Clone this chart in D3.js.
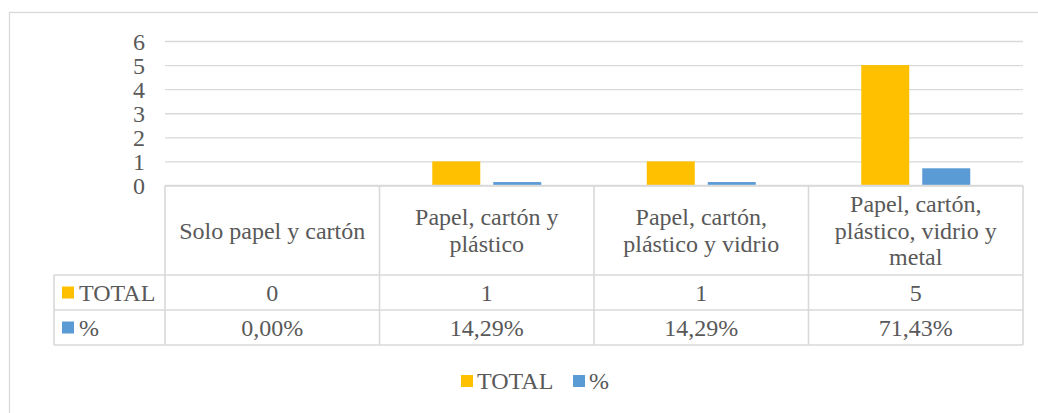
<!DOCTYPE html>
<html><head><meta charset="utf-8">
<script src="https://cdn.jsdelivr.net/npm/d3@7"></script>
<style>
html,body{margin:0;padding:0;background:#fff;}
svg text{font-family:"Liberation Serif","Times New Roman","DejaVu Serif",serif;fill:#595959;}
</style></head>
<body>
<svg id="chart" width="1038" height="413"></svg>
<script>
const categories = ["Solo papel y cartón", "Papel, cartón y plástico", "Papel, cartón, plástico y vidrio", "Papel, cartón, plástico, vidrio y metal"];
const seriesNames = ["TOTAL", "%"];
const totalValues = [0, 1, 1, 5];
const pctValues = [0, 0.1429, 0.1429, 0.7143];
const yTicks = [0, 1, 2, 3, 4, 5, 6];
const colors = ["#FFC000", "#5B9BD5"];

const locale = d3.formatLocale({decimal: ",", thousands: ".", grouping: [3], currency: ["", "€"]});
const fmtPct = locale.format(".2%");
const fmtNum = d3.format("d");

const svg = d3.select("#chart");
const FONT = '"Liberation Serif","Times New Roman","DejaVu Serif",serif';
const gridColor = "#D9D9D9";

// pick font size so that text width matches the reference (Times-like metrics at 24px)
const probe = svg.append("text").attr("font-family", FONT).attr("font-size", 24).text(categories[0]);
const probeW = probe.node().getComputedTextLength();
probe.remove();
const fontSize = Math.min(24, 24 * 186 / probeW);

// outer chart border
svg.append("rect").attr("x", 9.5).attr("y", 12.5).attr("width", 1040).attr("height", 420)
  .attr("fill", "none").attr("stroke", gridColor).attr("stroke-width", 1.3);

const plotL = 165, plotR = 1023, plotTop = 41, plotBottom = 185.5;
const y = d3.scaleLinear().domain([0, 6]).range([plotBottom, plotTop]);
const x = d3.scaleBand().domain(categories).range([plotL, plotR]).padding(0);
const xs = d3.scaleBand().domain(seriesNames).range([0, x.bandwidth()]).paddingInner(0.213).paddingOuter(0.865);

// gridlines + y axis
const yAxis = d3.axisLeft(y).tickValues(yTicks).tickSize(-(plotR - plotL)).tickPadding(20).tickFormat(fmtNum);
const gy = svg.append("g").attr("transform", `translate(${plotL},0)`).call(yAxis)
  .attr("font-family", FONT).attr("font-size", fontSize);
gy.select(".domain").remove();
gy.selectAll(".tick line").attr("stroke", gridColor).attr("stroke-width", 1.3);
gy.selectAll(".tick text").attr("font-size", fontSize).attr("fill", "#595959")
  .attr("font-family", FONT).attr("dy", "0.35em");

// bars
const seriesData = [totalValues, pctValues];
seriesData.forEach((vals, si) => {
  svg.append("g").selectAll("rect").data(vals).join("rect")
    .attr("x", (d, i) => x(categories[i]) + xs(seriesNames[si]))
    .attr("width", xs.bandwidth())
    .attr("y", d => y(d))
    .attr("height", d => y(0) - y(d))
    .attr("fill", colors[si]);
});

// data table
const headerBottom = 275, row1Bottom = 310, row2Bottom = 345, legendColL = 54;
const tbl = svg.append("g");
const line = (x1, y1, x2, y2) => tbl.append("line").attr("x1", x1).attr("y1", y1).attr("x2", x2).attr("y2", y2)
  .attr("stroke", gridColor).attr("stroke-width", 1.6);
line(plotL, plotBottom, plotR, plotBottom);
line(legendColL, headerBottom, plotR, headerBottom);
line(legendColL, row1Bottom, plotR, row1Bottom);
line(legendColL, row2Bottom, plotR, row2Bottom);
line(legendColL, headerBottom, legendColL, row2Bottom);
categories.forEach(c => line(x(c), plotBottom, x(c), row2Bottom));
line(plotR, plotBottom, plotR, row2Bottom);

function txt(sel) { return sel.append("text").attr("font-family", FONT).attr("font-size", fontSize).attr("fill", "#595959"); }

// header labels with wrap
function wrapLines(text, maxW) {
  const tmp = txt(svg);
  const words = text.split(" ");
  const lines = [];
  let cur = "";
  words.forEach(w => {
    const trial = cur ? cur + " " + w : w;
    tmp.text(trial);
    if (tmp.node().getComputedTextLength() > maxW && cur) { lines.push(cur); cur = w; }
    else cur = trial;
  });
  if (cur) lines.push(cur);
  tmp.remove();
  return lines;
}
const lineH = 26.5;
const maxW = 200 * fontSize / 24;
categories.forEach(c => {
  const lines = wrapLines(c, maxW);
  const cx = x(c) + x.bandwidth() / 2;
  const cy = (plotBottom + headerBottom) / 2;
  const t = txt(svg).attr("text-anchor", "middle");
  lines.forEach((l, i) => {
    t.append("tspan").attr("x", cx).attr("y", cy + (i - (lines.length - 1) / 2) * lineH).attr("dy", "0.35em").text(l);
  });
});

// rows
const rows = [
  {name: seriesNames[0], vals: totalValues.map(fmtNum), top: headerBottom, bot: row1Bottom, color: colors[0]},
  {name: seriesNames[1], vals: pctValues.map(fmtPct), top: row1Bottom, bot: row2Bottom, color: colors[1]}
];
rows.forEach(r => {
  const cy = (r.top + r.bot) / 2;
  svg.append("rect").attr("x", 62).attr("y", cy - 6).attr("width", 12).attr("height", 12).attr("fill", r.color);
  txt(svg).attr("x", 79).attr("y", cy).attr("dy", "0.35em").text(r.name);
  r.vals.forEach((v, i) => {
    txt(svg).attr("x", x(categories[i]) + x.bandwidth() / 2)
      .attr("y", cy).attr("dy", "0.35em").attr("text-anchor", "middle").text(v);
  });
});

// legend
const legendY = 381;
const legendItems = [{name: seriesNames[0], color: colors[0], x: 461}, {name: seriesNames[1], color: colors[1], x: 573}];
legendItems.forEach(it => {
  svg.append("rect").attr("x", it.x).attr("y", legendY - 6).attr("width", 12).attr("height", 12).attr("fill", it.color);
  txt(svg).attr("x", it.x + 16).attr("y", legendY).attr("dy", "0.35em").text(it.name);
});
</script>
</body></html>
